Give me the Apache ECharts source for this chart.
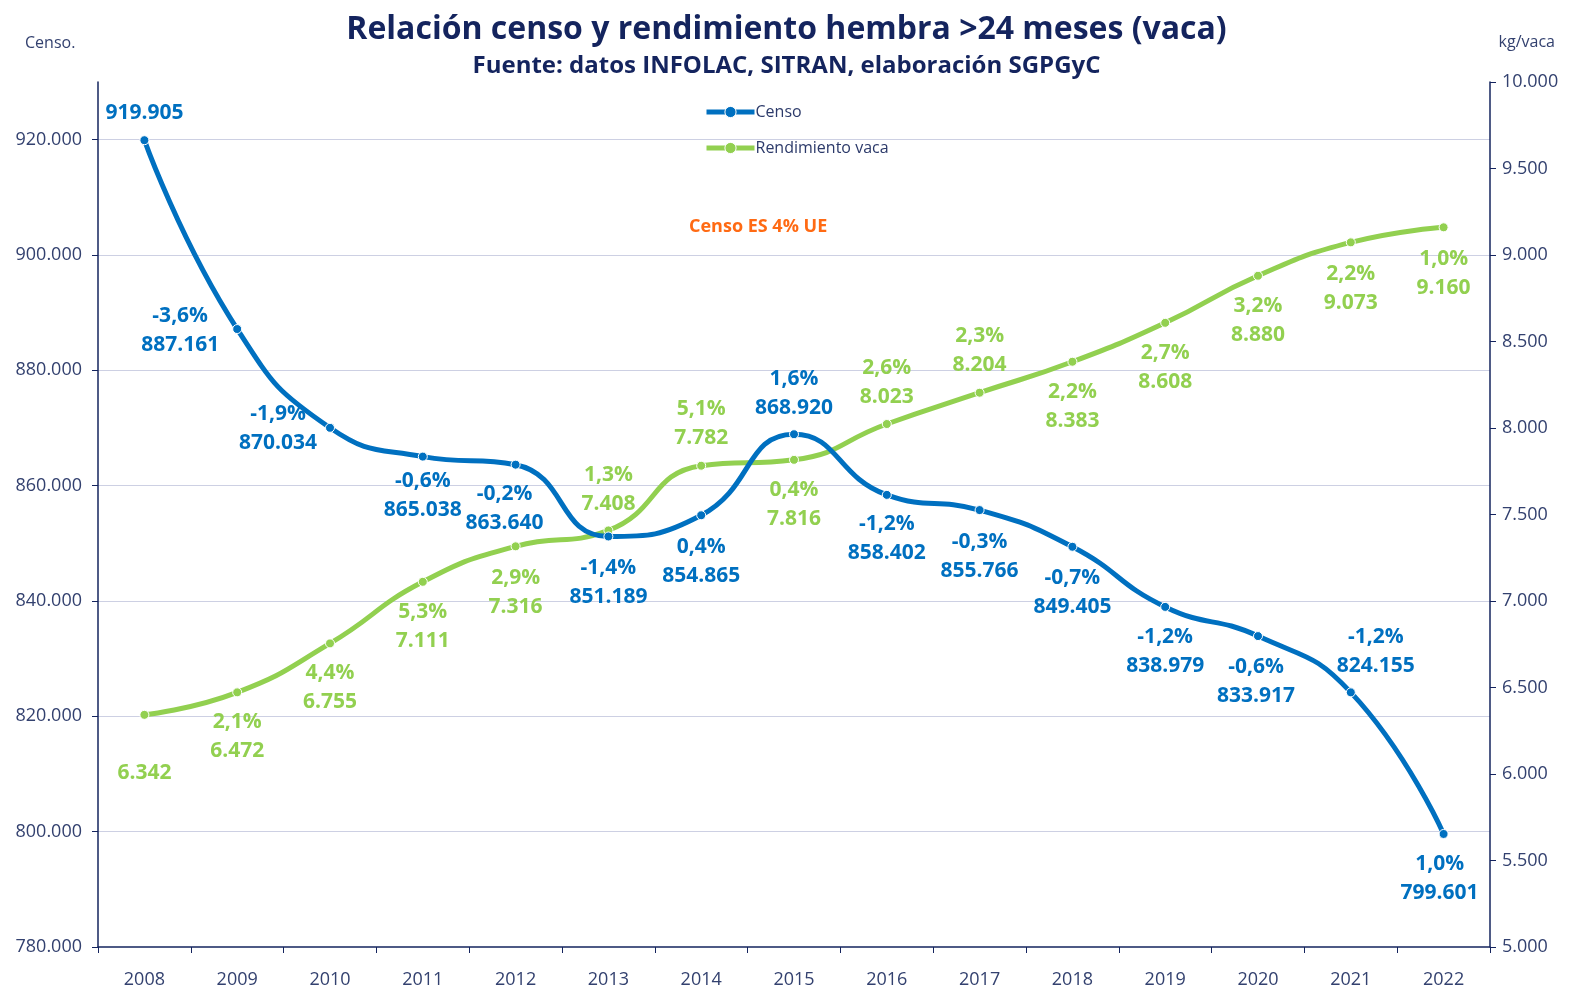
<!DOCTYPE html>
<html>
<head>
<meta charset="utf-8">
<script src="https://cdn.jsdelivr.net/npm/echarts@6/dist/echarts.min.js"></script>
<style>
html,body{margin:0;padding:0;background:#fff;}
#chart{width:1573px;height:989px;}
</style>
</head>
<body>
<div id="chart"></div>
<script>
// ---- data ----
const years = ['2008','2009','2010','2011','2012','2013','2014','2015','2016','2017','2018','2019','2020','2021','2022'];
const censo = [919905,887161,870034,865038,863640,851189,854865,868920,858402,855766,849405,838979,833917,824155,799601];
const censoPct = ['', '-3,6%','-1,9%','-0,6%','-0,2%','-1,4%','0,4%','1,6%','-1,2%','-0,3%','-0,7%','-1,2%','-0,6%','-1,2%','1,0%'];
const rendimiento = [6342,6472,6755,7111,7316,7408,7782,7816,8023,8204,8383,8608,8880,9073,9160];
const rendPct = ['', '2,1%','4,4%','5,3%','2,9%','1,3%','5,1%','0,4%','2,6%','2,3%','2,2%','2,7%','3,2%','2,2%','1,0%'];

// ---- label placement (style only) ----
const censoLabelOffset = [[0,-27],[-57,1],[-52,1],[0,39],[-11,44],[0,46],[0,46],[0,-41],[0,44],[0,46],[0,46],[0,45],[-2,45],[25,-41],[-4,45]];
const rendLabelOffset = [[0,58],[0,44],[0,44],[0,45],[0,46],[0,-41],[0,-42],[0,45],[0,-42],[0,-42],[0,45],[0,45],[0,45],[0,46],[0,46]];

const FONT = '"Open Sans", "Noto Sans", sans-serif';
const BLUE = '#0070c0';
const GREEN = '#92d050';
const NAVY = '#14245e';
const AXISTXT = '#33416f';

function fmt(n){ return String(n).replace(/\B(?=(\d{3})+(?!\d))/g, '.'); }

function buildData(vals, pcts, offs){
  return vals.map((v,i)=>({
    value: v,
    label: {
      offset: offs[i],
      formatter: pcts[i] ? pcts[i] + '\n' + fmt(v) : fmt(v)
    }
  }));
}

const chart = echarts.init(document.getElementById('chart'), null, {renderer:'canvas'});
chart.setOption({
  animation: false,
  textStyle: {fontFamily: FONT},
  title: [
    {text: 'Relación censo y rendimiento hembra >24 meses (vaca)', left: 'center', top: 9,
     textStyle: {fontFamily: FONT, fontSize: 32, fontWeight: 'bold', color: NAVY}},
    {text: 'Fuente: datos INFOLAC, SITRAN, elaboración SGPGyC', left: 'center', top: 49,
     textStyle: {fontFamily: FONT, fontSize: 24, fontWeight: 'bold', color: NAVY}}
  ],
  legend: {
    orient: 'vertical', left: 699, top: 99, itemWidth: 48, itemHeight: 14, itemGap: 20,
    lineStyle: {width: 5},
    itemStyle: {borderColor: '#ffffff', borderWidth: 1},
    textStyle: {fontFamily: FONT, fontSize: 16, color: '#2c3a6a', padding: [0,0,0,-4]},
    data: ['Censo', 'Rendimiento vaca']
  },
  graphic: [
    {type: 'text', left: 25, top: 35, style: {text: 'Censo.', font: '16px ' + FONT, fill: AXISTXT}},
    {type: 'text', right: 18, top: 34, style: {text: 'kg/vaca', font: '16px ' + FONT, fill: AXISTXT}},
    {type: 'text', left: 689, top: 218, style: {text: 'Censo ES 4% UE', font: 'bold 18px ' + FONT, fill: '#ff6a13'}}
  ],
  grid: {left: 98, right: 83, top: 82, bottom: 41, containLabel: false},
  xAxis: {
    type: 'category', data: years, boundaryGap: true,
    axisLine: {lineStyle: {color: NAVY, width: 1.5}},
    axisTick: {show: true, length: 6, lineStyle: {color: NAVY}},
    axisLabel: {color: AXISTXT, fontSize: 18, fontFamily: FONT, margin: 24}
  },
  yAxis: [
    {
      type: 'value', min: 780000, max: 930000, interval: 20000, position: 'left',
      axisLine: {show: true, lineStyle: {color: NAVY, width: 1.5}},
      axisTick: {show: true, length: 6, lineStyle: {color: NAVY}},
      axisLabel: {color: AXISTXT, fontSize: 18, fontFamily: FONT, margin: 16, showMaxLabel: false, formatter: v => fmt(v)},
      splitLine: {show: true, showMaxLine: false, showMinLine: false, lineStyle: {color: '#cdd0e3', width: 1}}
    },
    {
      type: 'value', min: 5000, max: 10000, interval: 500, position: 'right',
      axisLine: {show: true, lineStyle: {color: NAVY, width: 1.5}},
      axisTick: {show: true, length: 6, lineStyle: {color: NAVY}},
      axisLabel: {color: AXISTXT, fontSize: 18, fontFamily: FONT, margin: 12, formatter: v => fmt(v)},
      splitLine: {show: false}
    }
  ],
  series: [
    {
      name: 'Censo', type: 'line', yAxisIndex: 0, smooth: 0.5,
      data: buildData(censo, censoPct, censoLabelOffset),
      symbol: 'circle', symbolSize: 9,
      lineStyle: {color: BLUE, width: 5},
      itemStyle: {color: BLUE, borderColor: '#ffffff', borderWidth: 1},
      label: {show: true, position: 'inside', color: BLUE, fontFamily: FONT, fontSize: 21, fontWeight: 'bold', lineHeight: 29, align: 'center'},
      z: 3
    },
    {
      name: 'Rendimiento vaca', type: 'line', yAxisIndex: 1, smooth: 0.5,
      data: buildData(rendimiento, rendPct, rendLabelOffset),
      symbol: 'circle', symbolSize: 9,
      lineStyle: {color: GREEN, width: 5},
      itemStyle: {color: GREEN, borderColor: '#ffffff', borderWidth: 1},
      label: {show: true, position: 'inside', color: GREEN, fontFamily: FONT, fontSize: 21, fontWeight: 'bold', lineHeight: 29, align: 'center'},
      z: 2
    }
  ]
});
</script>
</body>
</html>
